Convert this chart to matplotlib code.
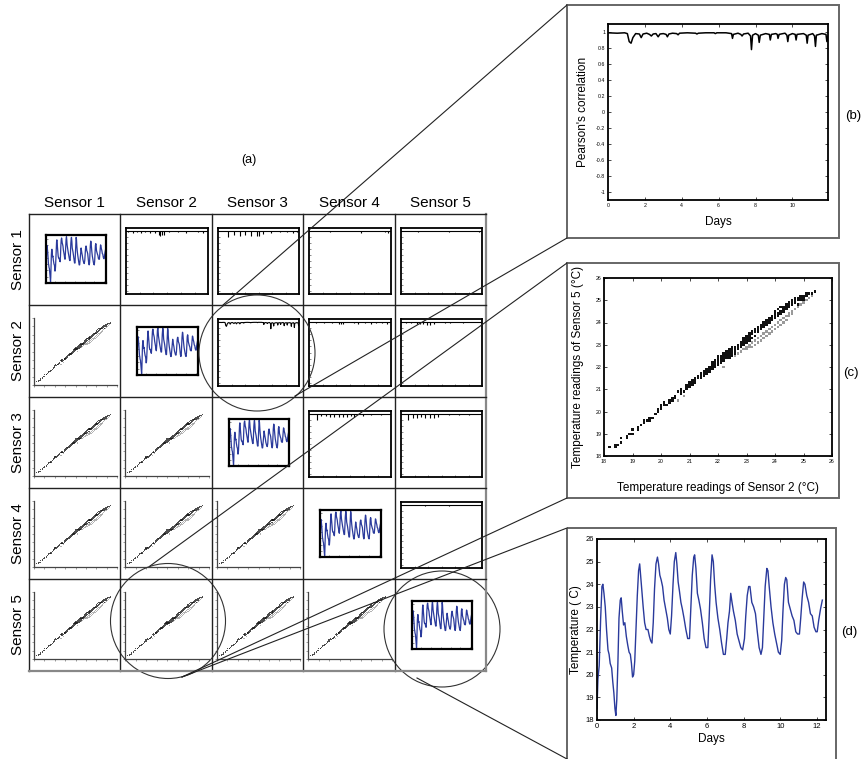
import matplotlib
matplotlib.use("Agg")
import matplotlib.pyplot as plt
from matplotlib.patches import Circle, Rectangle
from matplotlib.lines import Line2D

plt.rcParams['font.family'] = ['Liberation Sans', 'DejaVu Sans']

# ---------------- data ----------------
sensors = ["Sensor 1", "Sensor 2", "Sensor 3", "Sensor 4", "Sensor 5"]

# (d) temperature of Sensor 5 over time
days_d = [0.00, 0.05, 0.12, 0.2, 0.27, 0.32, 0.38, 0.45, 0.52, 0.6, 0.66, 0.72, 0.8, 0.86, 0.92, 0.98,
          1.03, 1.08, 1.14, 1.2, 1.27, 1.32, 1.38, 1.45, 1.52, 1.6, 1.68, 1.75, 1.82, 1.88, 1.94,
          2.0, 2.06, 2.13, 2.2, 2.27, 2.33, 2.38, 2.45, 2.52, 2.6, 2.68, 2.78, 2.86, 2.93,
          3.0, 3.07, 3.14, 3.22, 3.3, 3.36, 3.43, 3.5, 3.58, 3.66, 3.75, 3.84, 3.92,
          4.0, 4.07, 4.15, 4.22, 4.3, 4.36, 4.43, 4.5, 4.58, 4.66, 4.75, 4.85, 4.95,
          5.05, 5.12, 5.2, 5.28, 5.33, 5.4, 5.48, 5.56, 5.65, 5.75, 5.85, 5.95,
          6.05, 6.12, 6.2, 6.28, 6.35, 6.42, 6.5, 6.6, 6.7, 6.8, 6.9,
          7.0, 7.08, 7.15, 7.23, 7.3, 7.37, 7.45, 7.55, 7.65, 7.75, 7.85, 7.95,
          8.05, 8.12, 8.2, 8.28, 8.35, 8.45, 8.55, 8.65, 8.75, 8.85, 8.95,
          9.03, 9.1, 9.18, 9.27, 9.33, 9.4, 9.5, 9.6, 9.7, 9.8, 9.9,
          10.0, 10.08, 10.15, 10.23, 10.3, 10.36, 10.45, 10.55, 10.65, 10.75, 10.85, 10.95,
          11.05, 11.12, 11.2, 11.28, 11.35, 11.45, 11.55, 11.65, 11.75, 11.85, 11.95,
          12.02, 12.1, 12.2, 12.3]
temp_s5 = [18.5, 19.8, 20.4, 22.5, 23.9, 24.0, 23.6, 23.0, 22.0, 21.1, 20.9, 20.5, 20.3, 19.7, 19.2, 18.5,
           18.2, 18.9, 20.5, 22.5, 23.3, 23.4, 22.8, 22.2, 22.3, 21.7, 21.3, 21.0, 20.9, 20.5, 19.9,
           20.0, 20.6, 22.0, 23.5, 24.6, 24.9, 24.4, 23.7, 23.0, 22.3, 22.0, 22.0, 21.7, 21.5,
           21.4, 22.3, 23.8, 24.9, 25.2, 24.9, 24.4, 24.2, 23.9, 23.3, 22.9, 22.5, 22.0,
           21.8, 22.6, 24.0, 25.0, 25.4, 24.9, 24.1, 23.7, 23.2, 22.9, 22.5, 22.0, 21.6,
           21.6, 22.9, 24.4, 25.2, 25.3, 24.7, 23.6, 23.3, 22.9, 22.3, 21.6, 21.2,
           21.2, 22.5, 24.2, 25.3, 25.0, 24.0, 23.2, 22.5, 22.0, 21.4, 20.9,
           20.9, 21.6, 22.3, 22.8, 23.6, 23.2, 22.8, 22.4, 21.8, 21.5, 21.2, 21.1,
           21.6, 22.6, 23.5, 23.9, 23.9, 23.2, 23.0, 22.7, 21.9, 21.2, 20.9,
           21.2, 22.5, 23.9, 24.7, 24.6, 23.9, 23.0, 22.3, 21.8, 21.4, 21.0,
           20.9, 21.5, 22.8, 24.0, 24.3, 24.2, 23.2, 22.9, 22.6, 22.4, 21.9, 21.8,
           21.8, 22.5, 23.4, 24.1, 24.0, 23.5, 23.2, 22.7, 22.6, 22.1, 21.9,
           21.9, 22.4, 22.9, 23.3]

# (b) Pearson's correlation, Sensor 2 vs Sensor 3
corr_days = [0, 0.5, 0.9, 1.05, 1.15, 1.25, 1.35, 1.5, 1.7, 1.8, 1.9, 2.1, 2.25, 2.35, 2.45, 2.6, 2.72,
             2.82, 3.0, 3.15, 3.22, 3.3, 3.5, 3.72, 3.8, 3.88, 4.3, 4.75, 4.82, 4.9, 5.3, 5.75, 5.82,
             5.9, 6.4, 6.7, 6.75, 6.8, 7.05, 7.2, 7.27, 7.35, 7.6, 7.73, 7.78, 7.84, 8.0, 8.15, 8.2,
             8.26, 8.55, 8.75, 8.8, 8.86, 9.1, 9.18, 9.22, 9.28, 9.6, 9.7, 9.75, 9.8, 10.0, 10.15,
             10.2, 10.25, 10.6, 10.75, 10.8, 10.85, 11.1, 11.2, 11.25, 11.3, 11.6, 11.82, 11.87, 11.93]
corr_vals = [0.99, 0.985, 0.99, 0.98, 0.88, 0.86, 0.93, 0.98, 0.975, 0.93, 0.975, 0.985, 0.97, 0.95,
             0.975, 0.98, 0.94, 0.975, 0.98, 0.97, 0.94, 0.975, 0.985, 0.98, 0.965, 0.985, 0.99,
             0.985, 0.975, 0.985, 0.99, 0.99, 0.98, 0.99, 0.99, 0.98, 0.92, 0.97, 0.985, 0.97, 0.95,
             0.975, 0.985, 0.95, 0.78, 0.96, 0.98, 0.96, 0.87, 0.96, 0.98, 0.97, 0.90, 0.97, 0.98,
             0.97, 0.92, 0.97, 0.985, 0.96, 0.88, 0.96, 0.98, 0.97, 0.90, 0.97, 0.98, 0.96, 0.86,
             0.96, 0.98, 0.95, 0.82, 0.96, 0.98, 0.97, 0.88, 0.95]

# small correlation panels: baseline plus dips (day, minimum value)
corr_baseline = 0.99
day_span = [0, 11.93]
dips_1_2_days = [0.3, 1.0, 1.6, 2.2, 2.8, 3.5, 4.2, 4.8, 5.0, 5.3, 5.6, 6.3, 7.5, 8.8, 10.5, 11.2]
dips_1_2_vals = [0.96, 0.95, 0.96, 0.95, 0.96, 0.95, 0.95, 0.86, 0.85, 0.86, 0.88, 0.96, 0.96, 0.95, 0.96, 0.95]
dips_1_3_days = [1.4, 2.3, 3.2, 4.0, 4.9, 5.7, 6.0, 6.7, 7.8, 9.2, 10.1, 11.1, 11.6]
dips_1_3_vals = [0.80, 0.88, 0.85, 0.87, 0.84, 0.82, 0.82, 0.90, 0.95, 0.96, 0.96, 0.95, 0.96]
dips_1_4_days = [3.0, 7.5, 11.0, 11.5]
dips_1_4_vals = [0.98, 0.95, 0.96, 0.95]
dips_1_5_days = [2.5, 7.0, 11.5]
dips_1_5_vals = [0.97, 0.97, 0.96]
dips_2_4_days = [1.0, 2.2, 3.3, 4.4, 4.7, 5.0, 6.5, 7.2, 8.2, 9.0, 9.8, 10.6, 11.3]
dips_2_4_vals = [0.96, 0.96, 0.96, 0.95, 0.95, 0.93, 0.96, 0.95, 0.96, 0.94, 0.96, 0.96, 0.95]
dips_2_5_days = [0.8, 1.5, 2.3, 2.8, 3.3, 3.8, 4.3, 4.8, 6.5, 7.2, 9.2]
dips_2_5_vals = [0.97, 0.96, 0.93, 0.92, 0.93, 0.91, 0.91, 0.93, 0.97, 0.97, 0.97]
dips_3_4_days = [1.2, 1.8, 2.5, 3.1, 3.7, 4.3, 4.9, 5.5, 6.1, 6.6, 7.8, 9.0, 10.5]
dips_3_4_vals = [0.80, 0.92, 0.92, 0.90, 0.90, 0.90, 0.90, 0.90, 0.93, 0.90, 0.95, 0.96, 0.97]
dips_3_5_days = [1.1, 1.8, 2.4, 3.0, 3.6, 4.2, 4.8, 5.4, 7.0, 8.5, 10.0]
dips_3_5_vals = [0.80, 0.88, 0.87, 0.89, 0.88, 0.87, 0.87, 0.90, 0.96, 0.96, 0.97]
dips_4_5_days = [3.5, 7.0]
dips_4_5_vals = [0.96, 0.98]

# (c) scatter: Sensor 2 readings (columns) and Sensor 5 readings at those values
s2_levels = [18.2, 18.4, 18.5, 18.6, 18.8, 18.9, 19.0, 19.2, 19.3, 19.4, 19.5, 19.6, 19.7, 19.8, 19.9,
             20.0, 20.1, 20.2, 20.3, 20.4, 20.5, 20.6, 20.7, 20.8, 20.9, 21.0, 21.1, 21.2, 21.3, 21.4,
             21.5, 21.6, 21.7, 21.8, 21.9, 22.0, 22.1, 22.2, 22.3, 22.4, 22.5, 22.6, 22.7, 22.8, 22.9,
             23.0, 23.1, 23.2, 23.3, 23.4, 23.5, 23.6, 23.7, 23.8, 23.9, 24.0, 24.1, 24.2, 24.3, 24.4,
             24.5, 24.6, 24.7, 24.8, 24.9, 25.0, 25.1, 25.2, 25.3, 25.4]
s5_at_level = [[18.4], [18.4, 18.5], [18.5], [18.6, 18.8], [18.8, 18.9], [19.0], [19.0, 19.2],
               [19.2, 19.3], [19.4], [19.5, 19.6], [19.6], [19.7, 19.6], [19.7], [19.9], [20.0, 20.1],
               [20.2, 20.3, 20.1], [20.3, 20.4], [20.3], [20.4, 20.5], [20.5, 20.6], [20.6, 20.7],
               [20.9, 20.5], [20.8, 20.9, 21.0], [20.9, 20.7], [21.0, 21.1, 21.2], [21.1, 21.2, 21.3],
               [21.3, 21.4, 21.2], [21.4, 21.5, 21.3], [21.5, 21.6], [21.5, 21.6, 21.7],
               [21.7, 21.8, 21.6], [21.8, 21.9, 21.7], [21.9, 22.0, 21.8], [22.0, 22.1, 21.9, 22.2],
               [22.1, 22.2, 22.3, 22.0], [22.2, 22.3, 22.4, 22.5, 22.1], [22.3, 22.4, 22.5, 22.2],
               [22.4, 22.5, 22.6, 22.0, 22.3], [22.5, 22.6, 22.7, 22.4], [22.5, 22.6, 22.7, 22.8, 22.4],
               [22.6, 22.7, 22.8, 22.9, 22.5], [22.7, 22.8, 22.9, 22.6, 22.5], [22.8, 22.9, 23.0, 22.6],
               [22.9, 23.0, 23.1, 22.7], [23.0, 23.1, 23.2, 23.3, 22.8],
               [23.1, 23.2, 23.3, 23.4, 22.9, 22.8], [23.2, 23.3, 23.4, 23.5, 23.0, 22.9],
               [23.3, 23.5, 23.6, 23.1, 22.9], [23.4, 23.6, 23.7, 23.2, 23.0], [23.6, 23.7, 23.8, 23.3, 23.1],
               [23.7, 23.8, 23.9, 23.4, 23.2], [23.8, 23.9, 24.0, 23.5, 23.3], [23.9, 24.0, 24.1, 23.6, 23.4],
               [24.0, 24.1, 24.2, 23.7, 23.5], [24.1, 24.2, 24.3, 23.8, 23.6],
               [24.2, 24.3, 24.4, 24.5, 23.9, 23.7], [24.3, 24.4, 24.6, 24.0, 23.8],
               [24.4, 24.5, 24.7, 24.1, 23.9], [24.5, 24.6, 24.7, 24.2, 24.0], [24.6, 24.7, 24.8, 24.3, 24.1],
               [24.7, 24.8, 24.9, 24.4, 24.3], [24.8, 24.9, 25.0, 24.5, 24.4], [24.9, 25.0, 25.1, 24.6],
               [25.0, 25.1, 24.7, 24.8], [25.0, 25.1, 25.2, 24.8], [25.1, 25.2, 24.9, 25.0],
               [25.2, 25.3, 25.0], [25.3, 25.1], [25.3, 25.2], [25.4]]

corr_ticks = [-1, -0.8, -0.6, -0.4, -0.2, 0, 0.2, 0.4, 0.6, 0.8, 1]
corr_tick_labels = ["-1", "-0.8", "-0.6", "-0.4", "-0.2", "0", "0.2", "0.4", "0.6", "0.8", "1"]

# ---------------- figure / layout helpers ----------------
W, H = 863, 759
fig = plt.figure(figsize=(W / 100, H / 100), dpi=100)
BLUE = "#2a3a9c"


def px_axes(x0, y0, x1, y1, z=1):
    return fig.add_axes([x0 / W, 1 - y1 / H, (x1 - x0) / W, (y1 - y0) / H], zorder=z)


col_edges = [29, 120, 212, 303, 395, 486]
row_edges = [214, 305, 397, 488, 579, 671]

xs_sc, ys_sc, cs_sc = [], [], []
for lvl, vals in zip(s2_levels, s5_at_level):
    for v in vals:
        xs_sc.append(lvl)
        ys_sc.append(v)
        cs_sc.append("#111111" if v >= lvl else "#9a9a9a")


def style_small(ax, lw=1.3):
    ax.tick_params(direction="in", length=1.5, width=0.4, labelleft=False, labelbottom=False,
                   colors="#333333")
    for s in ax.spines.values():
        s.set_linewidth(lw)


corr_cells = {
    (0, 1): (dips_1_2_days, dips_1_2_vals), (0, 2): (dips_1_3_days, dips_1_3_vals),
    (0, 3): (dips_1_4_days, dips_1_4_vals), (0, 4): (dips_1_5_days, dips_1_5_vals),
    (1, 3): (dips_2_4_days, dips_2_4_vals), (1, 4): (dips_2_5_days, dips_2_5_vals),
    (2, 3): (dips_3_4_days, dips_3_4_vals), (2, 4): (dips_3_5_days, dips_3_5_vals),
    (3, 4): (dips_4_5_days, dips_4_5_vals),
}

for r in range(5):
    for c in range(5):
        x0, x1 = col_edges[c], col_edges[c + 1]
        y0, y1 = row_edges[r], row_edges[r + 1]
        if r == c:
            ax = px_axes(x0 + 16.5, y0 + 21.5, x1 - 14.5, y1 - 22)
            ax.plot(days_d, temp_s5, color=BLUE, lw=0.9)
            ax.set_xlim(0, 12.3)
            ax.set_ylim(18.0, 25.6)
            ax.set_xticks(range(0, 13, 2))
            ax.set_yticks(range(18, 26))
            style_small(ax, 1.6)
        elif c > r:
            ax = px_axes(x0 + 6, y0 + 14, x1 - 4, y1 - 11)
            if (r, c) == (1, 2):
                ax.plot(corr_days, corr_vals, color="k", lw=0.8)
            else:
                dd, dv = corr_cells[(r, c)]
                ax.plot(day_span, [corr_baseline, corr_baseline], color="k", lw=0.8)
                ax.vlines(dd, dv, corr_baseline, color="k", lw=0.8)
            ax.set_xlim(0, 11.93)
            ax.set_ylim(-1.1, 1.1)
            ax.set_xticks(range(0, 12, 2))
            ax.set_yticks(corr_ticks)
            style_small(ax, 1.3)
        else:
            ax = px_axes(x0 + 5, y0 + 13, x1 - 3, y1 - 12)
            ax.scatter(xs_sc, ys_sc, s=0.6, c=cs_sc, marker="s", linewidths=0, alpha=0.75)
            ax.set_xlim(18, 26)
            ax.set_ylim(18, 26)
            ax.set_xticks(range(18, 27))
            ax.set_yticks(range(18, 27))
            ax.spines["top"].set_visible(False)
            ax.spines["right"].set_visible(False)
            ax.tick_params(direction="out", length=1.5, width=0.4, labelleft=False,
                           labelbottom=False, colors="#555555")
            for s in ("left", "bottom"):
                ax.spines[s].set_linewidth(0.9)
                ax.spines[s].set_color("#444444")


def matlab_box(ax, fs):
    ax.tick_params(direction="in", top=True, right=True, length=2, width=0.5, labelsize=fs, pad=2)
    for s in ax.spines.values():
        s.set_linewidth(1.3)


# (b)
axb = px_axes(608, 24, 828, 200)
axb.plot(corr_days, corr_vals, color="k", lw=1.1)
axb.set_xlim(0, 11.93)
axb.set_ylim(-1.1, 1.1)
axb.set_xticks(range(0, 12, 2))
axb.set_yticks(corr_ticks)
axb.set_yticklabels(corr_tick_labels)
matlab_box(axb, 3.8)
axb.set_xlabel("Days", fontsize=8.5, labelpad=6)
axb.set_ylabel("Pearson's correlation", fontsize=8.5, labelpad=5)

# (c)
axc = px_axes(604, 278, 832, 456)
axc.scatter(xs_sc, ys_sc, s=3.0, c=cs_sc, marker="s", linewidths=0)
axc.set_xlim(18, 26)
axc.set_ylim(18, 26)
axc.set_xticks(range(18, 27))
axc.set_yticks(range(18, 27))
matlab_box(axc, 3.8)
axc.set_xlabel("Temperature readings of Sensor 2 (\u00b0C)", fontsize=8.5, labelpad=13)
axc.set_ylabel("Temperature readings of Sensor 5 (\u00b0C)", fontsize=8.5, labelpad=8)

# (d)
axd = px_axes(597, 539, 826, 720)
axd.plot(days_d, temp_s5, color=BLUE, lw=1.0)
axd.set_xlim(0, 12.5)
axd.set_ylim(18, 26)
axd.set_xticks(range(0, 13, 2))
axd.set_yticks(range(18, 27))
matlab_box(axd, 5.5)
axd.set_xlabel("Days", fontsize=8.5, labelpad=2)
axd.set_ylabel("Temperature ( C)", fontsize=8.5, labelpad=3)

# ---------------- overlay: grid, boxes, circles, connectors, labels ----------------
ov = px_axes(0, 0, W, H, z=10)
ov.set_xlim(0, W)
ov.set_ylim(H, 0)
ov.axis("off")
ov.patch.set_alpha(0)

for i, x in enumerate(col_edges):
    edge = i == len(col_edges) - 1
    ov.add_line(Line2D([x, x], [row_edges[0], row_edges[-1]], color="#888888" if edge else "#222222",
                       lw=1.6 if edge else 1.0))
for i, y in enumerate(row_edges):
    edge = i == len(row_edges) - 1
    ov.add_line(Line2D([col_edges[0], col_edges[-1]], [y, y], color="#888888" if edge else "#222222",
                       lw=1.6 if edge else 1.0))

for name, x0, x1 in zip(sensors, col_edges[:-1], col_edges[1:]):
    ov.text((x0 + x1) / 2, 203, name, ha="center", va="center", fontsize=11)
for name, y0, y1 in zip(sensors, row_edges[:-1], row_edges[1:]):
    ov.text(18, (y0 + y1) / 2, name, ha="center", va="center", fontsize=11, rotation=90)

ov.text(249, 160, "(a)", ha="center", va="center", fontsize=9)
ov.text(853, 116, "(b)", ha="center", va="center", fontsize=9.5)
ov.text(851, 373, "(c)", ha="center", va="center", fontsize=9.5)
ov.text(849, 632, "(d)", ha="center", va="center", fontsize=9.5)

for (bx0, by0, bx1, by1) in [(567, 5, 839, 238), (567, 263, 839, 498), (567, 528, 836, 775)]:
    ov.add_patch(Rectangle((bx0, by0), bx1 - bx0, by1 - by0, fill=False, ec="#666666", lw=1.4))

for (cx, cy, rad) in [(257, 353, 58), (168, 621, 57.5), (442, 629, 58)]:
    ov.add_patch(Circle((cx, cy), rad, fill=False, ec="#333333", lw=0.8))

for (xa, ya, xb, yb) in [(567, 5, 223, 305), (567, 238, 295, 396), (567, 263, 150, 566),
                         (567, 498, 182, 677), (567, 528, 182, 677), (417, 678, 567, 759)]:
    ov.add_line(Line2D([xa, xb], [ya, yb], color="#222222", lw=0.8))

fig.savefig("out.png", dpi=100)
